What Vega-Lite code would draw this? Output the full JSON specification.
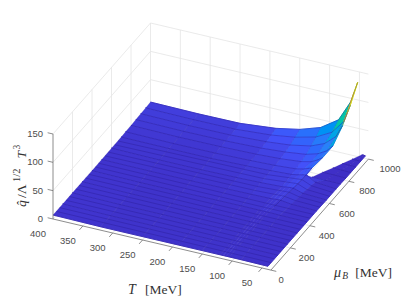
{"$schema":"https://vega.github.io/schema/vega-lite/v6.json","width":407,"height":305,"padding":0,"autosize":"none","background":"white","config":{"view":{"stroke":null}},
"datasets":{
"nodes":[
{"s":1,"i":0,"j":0,"T":400,"m":1000,"q":10.5},{"s":1,"i":0,"j":1,"T":400,"m":950,"q":10},{"s":1,"i":0,"j":2,"T":400,"m":900,"q":9.5},{"s":1,"i":0,"j":3,"T":400,"m":850,"q":9},{"s":1,"i":0,"j":4,"T":400,"m":800,"q":8.5},{"s":1,"i":0,"j":5,"T":400,"m":745,"q":8},{"s":1,"i":0,"j":6,"T":400,"m":700,"q":7.5},{"s":1,"i":0,"j":7,"T":400,"m":600,"q":7.5},{"s":1,"i":0,"j":8,"T":400,"m":500,"q":7},{"s":1,"i":0,"j":9,"T":400,"m":400,"q":7},{"s":1,"i":0,"j":10,"T":400,"m":300,"q":7},{"s":1,"i":0,"j":11,"T":400,"m":200,"q":7},{"s":1,"i":0,"j":12,"T":400,"m":100,"q":7},{"s":1,"i":0,"j":13,"T":400,"m":0,"q":7},
{"s":1,"i":1,"j":0,"T":320,"m":1000,"q":9.5},{"s":1,"i":1,"j":1,"T":320,"m":950,"q":9},{"s":1,"i":1,"j":2,"T":320,"m":900,"q":8.5},{"s":1,"i":1,"j":3,"T":320,"m":850,"q":8},{"s":1,"i":1,"j":4,"T":320,"m":800,"q":7.5},{"s":1,"i":1,"j":5,"T":320,"m":745,"q":7},{"s":1,"i":1,"j":6,"T":320,"m":700,"q":7},{"s":1,"i":1,"j":7,"T":320,"m":600,"q":6.5},{"s":1,"i":1,"j":8,"T":320,"m":500,"q":6.5},{"s":1,"i":1,"j":9,"T":320,"m":400,"q":6},{"s":1,"i":1,"j":10,"T":320,"m":300,"q":6},{"s":1,"i":1,"j":11,"T":320,"m":200,"q":6},{"s":1,"i":1,"j":12,"T":320,"m":100,"q":6},{"s":1,"i":1,"j":13,"T":320,"m":0,"q":6},
{"s":1,"i":2,"j":0,"T":250,"m":1000,"q":10},{"s":1,"i":2,"j":1,"T":250,"m":950,"q":9.5},{"s":1,"i":2,"j":2,"T":250,"m":900,"q":9},{"s":1,"i":2,"j":3,"T":250,"m":850,"q":8.5},{"s":1,"i":2,"j":4,"T":250,"m":800,"q":8},{"s":1,"i":2,"j":5,"T":250,"m":745,"q":7.5},{"s":1,"i":2,"j":6,"T":250,"m":700,"q":7},{"s":1,"i":2,"j":7,"T":250,"m":600,"q":6.5},{"s":1,"i":2,"j":8,"T":250,"m":500,"q":6.5},{"s":1,"i":2,"j":9,"T":250,"m":400,"q":6},{"s":1,"i":2,"j":10,"T":250,"m":300,"q":6},{"s":1,"i":2,"j":11,"T":250,"m":200,"q":6},{"s":1,"i":2,"j":12,"T":250,"m":100,"q":6},{"s":1,"i":2,"j":13,"T":250,"m":0,"q":6},
{"s":1,"i":3,"j":0,"T":190,"m":1000,"q":16},{"s":1,"i":3,"j":1,"T":190,"m":950,"q":14},{"s":1,"i":3,"j":2,"T":190,"m":900,"q":12},{"s":1,"i":3,"j":3,"T":190,"m":850,"q":10.5},{"s":1,"i":3,"j":4,"T":190,"m":800,"q":9.5},{"s":1,"i":3,"j":5,"T":190,"m":745,"q":9},{"s":1,"i":3,"j":6,"T":190,"m":700,"q":8.5},{"s":1,"i":3,"j":7,"T":190,"m":600,"q":7.5},{"s":1,"i":3,"j":8,"T":190,"m":500,"q":7},{"s":1,"i":3,"j":9,"T":190,"m":400,"q":6.5},{"s":1,"i":3,"j":10,"T":190,"m":300,"q":6},{"s":1,"i":3,"j":11,"T":190,"m":200,"q":6},{"s":1,"i":3,"j":12,"T":190,"m":100,"q":6},{"s":1,"i":3,"j":13,"T":190,"m":0,"q":6},
{"s":1,"i":4,"j":0,"T":150,"m":1000,"q":24},{"s":1,"i":4,"j":1,"T":150,"m":950,"q":20},{"s":1,"i":4,"j":2,"T":150,"m":900,"q":16},{"s":1,"i":4,"j":3,"T":150,"m":850,"q":13.5},{"s":1,"i":4,"j":4,"T":150,"m":800,"q":11.5},{"s":1,"i":4,"j":5,"T":150,"m":745,"q":10.5},{"s":1,"i":4,"j":6,"T":150,"m":700,"q":10},{"s":1,"i":4,"j":7,"T":150,"m":600,"q":8.5},{"s":1,"i":4,"j":8,"T":150,"m":500,"q":7.5},{"s":1,"i":4,"j":9,"T":150,"m":400,"q":6.5},{"s":1,"i":4,"j":10,"T":150,"m":300,"q":6},{"s":1,"i":4,"j":11,"T":150,"m":200,"q":6},{"s":1,"i":4,"j":12,"T":150,"m":100,"q":6},{"s":1,"i":4,"j":13,"T":150,"m":0,"q":6},
{"s":1,"i":5,"j":0,"T":115,"m":1000,"q":36},{"s":1,"i":5,"j":1,"T":115,"m":950,"q":29},{"s":1,"i":5,"j":2,"T":115,"m":900,"q":23},{"s":1,"i":5,"j":3,"T":115,"m":850,"q":18},{"s":1,"i":5,"j":4,"T":115,"m":800,"q":15},{"s":1,"i":5,"j":5,"T":115,"m":745,"q":13},{"s":1,"i":5,"j":6,"T":115,"m":700,"q":12},{"s":1,"i":5,"j":7,"T":115,"m":600,"q":10},{"s":1,"i":5,"j":8,"T":118,"m":500,"q":8},{"s":1,"i":5,"j":9,"T":120,"m":400,"q":6.5},{"s":1,"i":5,"j":10,"T":120,"m":300,"q":6},{"s":1,"i":5,"j":11,"T":120,"m":200,"q":6},{"s":1,"i":5,"j":12,"T":120,"m":100,"q":6},{"s":1,"i":5,"j":13,"T":120,"m":0,"q":6},
{"s":1,"i":6,"j":0,"T":85,"m":1000,"q":57},{"s":1,"i":6,"j":1,"T":88,"m":950,"q":44},{"s":1,"i":6,"j":2,"T":92,"m":900,"q":33},{"s":1,"i":6,"j":3,"T":95,"m":850,"q":24},{"s":1,"i":6,"j":4,"T":98,"m":800,"q":19},{"s":1,"i":6,"j":5,"T":102,"m":745,"q":16},{"s":1,"i":6,"j":6,"T":104,"m":700,"q":14},{"s":1,"i":6,"j":7,"T":108,"m":600,"q":11},{"s":1,"i":6,"j":8,"T":112,"m":500,"q":8.5},{"s":1,"i":6,"j":9,"T":115,"m":400,"q":6.5},{"s":1,"i":6,"j":10,"T":115,"m":300,"q":6},{"s":1,"i":6,"j":11,"T":115,"m":200,"q":6},{"s":1,"i":6,"j":12,"T":115,"m":100,"q":6},{"s":1,"i":6,"j":13,"T":115,"m":0,"q":6},
{"s":1,"i":7,"j":0,"T":65,"m":1000,"q":93},{"s":1,"i":7,"j":1,"T":68,"m":950,"q":68},{"s":1,"i":7,"j":2,"T":73,"m":900,"q":50},{"s":1,"i":7,"j":3,"T":80,"m":850,"q":33},{"s":1,"i":7,"j":4,"T":87,"m":800,"q":25},{"s":1,"i":7,"j":5,"T":94,"m":745,"q":19},{"s":1,"i":7,"j":6,"T":96,"m":700,"q":16},{"s":1,"i":7,"j":7,"T":100,"m":600,"q":12},{"s":1,"i":7,"j":8,"T":105,"m":500,"q":9},{"s":1,"i":7,"j":9,"T":110,"m":400,"q":6.5},{"s":1,"i":7,"j":10,"T":110,"m":300,"q":6},{"s":1,"i":7,"j":11,"T":110,"m":200,"q":6},{"s":1,"i":7,"j":12,"T":110,"m":100,"q":6},{"s":1,"i":7,"j":13,"T":110,"m":0,"q":6},
{"s":1,"i":8,"j":0,"T":53,"m":1000,"q":131},{"s":1,"i":8,"j":1,"T":57,"m":950,"q":100},{"s":1,"i":8,"j":2,"T":62,"m":900,"q":72},{"s":1,"i":8,"j":3,"T":70,"m":850,"q":44},{"s":1,"i":8,"j":4,"T":79,"m":800,"q":31},{"s":1,"i":8,"j":5,"T":88,"m":745,"q":21},{"s":1,"i":8,"j":6,"T":90,"m":700,"q":17},{"s":1,"i":8,"j":7,"T":95,"m":600,"q":12},{"s":1,"i":8,"j":8,"T":100,"m":500,"q":9},{"s":1,"i":8,"j":9,"T":105,"m":400,"q":6.5},{"s":1,"i":8,"j":10,"T":105,"m":300,"q":6},{"s":1,"i":8,"j":11,"T":105,"m":200,"q":6},{"s":1,"i":8,"j":12,"T":105,"m":100,"q":6},{"s":1,"i":8,"j":13,"T":105,"m":0,"q":6},
{"s":2,"i":0,"j":0,"T":46,"m":1000,"q":5},{"s":2,"i":0,"j":1,"T":54,"m":950,"q":5},{"s":2,"i":0,"j":2,"T":62,"m":900,"q":5},{"s":2,"i":0,"j":3,"T":70,"m":850,"q":5},{"s":2,"i":0,"j":4,"T":79,"m":800,"q":5},{"s":2,"i":0,"j":5,"T":88,"m":745,"q":5},{"s":2,"i":0,"j":6,"T":90,"m":700,"q":17},{"s":2,"i":0,"j":7,"T":95,"m":600,"q":12},{"s":2,"i":0,"j":8,"T":100,"m":500,"q":9},{"s":2,"i":0,"j":9,"T":105,"m":400,"q":6.5},{"s":2,"i":0,"j":10,"T":105,"m":300,"q":6},{"s":2,"i":0,"j":11,"T":105,"m":200,"q":6},{"s":2,"i":0,"j":12,"T":105,"m":100,"q":6},{"s":2,"i":0,"j":13,"T":105,"m":0,"q":6},
{"s":2,"i":1,"j":0,"T":43,"m":1000,"q":5},{"s":2,"i":1,"j":1,"T":47,"m":950,"q":5},{"s":2,"i":1,"j":2,"T":51,"m":900,"q":5},{"s":2,"i":1,"j":3,"T":55,"m":850,"q":5},{"s":2,"i":1,"j":4,"T":60,"m":800,"q":5},{"s":2,"i":1,"j":5,"T":65,"m":745,"q":5},{"s":2,"i":1,"j":6,"T":75,"m":700,"q":8},{"s":2,"i":1,"j":7,"T":80,"m":600,"q":7},{"s":2,"i":1,"j":8,"T":82,"m":500,"q":6.5},{"s":2,"i":1,"j":9,"T":85,"m":400,"q":6},{"s":2,"i":1,"j":10,"T":85,"m":300,"q":6},{"s":2,"i":1,"j":11,"T":85,"m":200,"q":6},{"s":2,"i":1,"j":12,"T":85,"m":100,"q":6},{"s":2,"i":1,"j":13,"T":85,"m":0,"q":6},
{"s":2,"i":2,"j":0,"T":40,"m":1000,"q":4.5},{"s":2,"i":2,"j":1,"T":40,"m":950,"q":4.5},{"s":2,"i":2,"j":2,"T":40,"m":900,"q":4.5},{"s":2,"i":2,"j":3,"T":40,"m":850,"q":4.5},{"s":2,"i":2,"j":4,"T":40,"m":800,"q":4.5},{"s":2,"i":2,"j":5,"T":40,"m":745,"q":5},{"s":2,"i":2,"j":6,"T":40,"m":700,"q":5},{"s":2,"i":2,"j":7,"T":40,"m":600,"q":5},{"s":2,"i":2,"j":8,"T":40,"m":500,"q":5.5},{"s":2,"i":2,"j":9,"T":40,"m":400,"q":5.5},{"s":2,"i":2,"j":10,"T":40,"m":300,"q":5.5},{"s":2,"i":2,"j":11,"T":40,"m":200,"q":5.5},{"s":2,"i":2,"j":12,"T":40,"m":100,"q":5.5},{"s":2,"i":2,"j":13,"T":40,"m":0,"q":5.5},
{"s":3,"i":0,"j":0,"T":65,"m":1000,"q":93},{"s":3,"i":0,"j":1,"T":68,"m":950,"q":68},{"s":3,"i":1,"j":0,"T":59,"m":1000,"q":112},{"s":3,"i":1,"j":1,"T":62.5,"m":950,"q":84},{"s":3,"i":2,"j":0,"T":53,"m":1000,"q":131},{"s":3,"i":2,"j":1,"T":57,"m":950,"q":100}
],
"grid":[
{"g":"z0","o":0,"T":400,"m":0,"q":0},{"g":"z0","o":1,"T":400,"m":1000,"q":0},{"g":"z0","o":2,"T":35,"m":1000,"q":0},
{"g":"z50","o":0,"T":400,"m":0,"q":50},{"g":"z50","o":1,"T":400,"m":1000,"q":50},{"g":"z50","o":2,"T":35,"m":1000,"q":50},
{"g":"z100","o":0,"T":400,"m":0,"q":100},{"g":"z100","o":1,"T":400,"m":1000,"q":100},{"g":"z100","o":2,"T":35,"m":1000,"q":100},
{"g":"z150","o":0,"T":400,"m":0,"q":150},{"g":"z150","o":1,"T":400,"m":1000,"q":150},{"g":"z150","o":2,"T":35,"m":1000,"q":150},
{"g":"m200","o":0,"T":35,"m":200,"q":0},{"g":"m200","o":1,"T":400,"m":200,"q":0},{"g":"m200","o":2,"T":400,"m":200,"q":150},
{"g":"m400","o":0,"T":35,"m":400,"q":0},{"g":"m400","o":1,"T":400,"m":400,"q":0},{"g":"m400","o":2,"T":400,"m":400,"q":150},
{"g":"m600","o":0,"T":35,"m":600,"q":0},{"g":"m600","o":1,"T":400,"m":600,"q":0},{"g":"m600","o":2,"T":400,"m":600,"q":150},
{"g":"m800","o":0,"T":35,"m":800,"q":0},{"g":"m800","o":1,"T":400,"m":800,"q":0},{"g":"m800","o":2,"T":400,"m":800,"q":150},
{"g":"t400","o":0,"T":400,"m":1000,"q":0},{"g":"t400","o":1,"T":400,"m":1000,"q":150},
{"g":"t350","o":0,"T":350,"m":0,"q":0},{"g":"t350","o":1,"T":350,"m":1000,"q":0},{"g":"t350","o":2,"T":350,"m":1000,"q":150},
{"g":"t300","o":0,"T":300,"m":0,"q":0},{"g":"t300","o":1,"T":300,"m":1000,"q":0},{"g":"t300","o":2,"T":300,"m":1000,"q":150},
{"g":"t250","o":0,"T":250,"m":0,"q":0},{"g":"t250","o":1,"T":250,"m":1000,"q":0},{"g":"t250","o":2,"T":250,"m":1000,"q":150},
{"g":"t200","o":0,"T":200,"m":0,"q":0},{"g":"t200","o":1,"T":200,"m":1000,"q":0},{"g":"t200","o":2,"T":200,"m":1000,"q":150},
{"g":"t150","o":0,"T":150,"m":0,"q":0},{"g":"t150","o":1,"T":150,"m":1000,"q":0},{"g":"t150","o":2,"T":150,"m":1000,"q":150},
{"g":"t100","o":0,"T":100,"m":0,"q":0},{"g":"t100","o":1,"T":100,"m":1000,"q":0},{"g":"t100","o":2,"T":100,"m":1000,"q":150},
{"g":"t50","o":0,"T":50,"m":0,"q":0},{"g":"t50","o":1,"T":50,"m":1000,"q":0},{"g":"t50","o":2,"T":50,"m":1000,"q":150}
],
"mesh":[
{"g":33,"o":0,"T":400,"m":33,"q":7},{"g":33,"o":1,"T":40,"m":33,"q":5.5},{"g":67,"o":0,"T":400,"m":67,"q":7},{"g":67,"o":1,"T":40,"m":67,"q":5.5},{"g":133,"o":0,"T":400,"m":133,"q":7},{"g":133,"o":1,"T":40,"m":133,"q":5.5},{"g":167,"o":0,"T":400,"m":167,"q":7},{"g":167,"o":1,"T":40,"m":167,"q":5.5},{"g":233,"o":0,"T":400,"m":233,"q":7},{"g":233,"o":1,"T":40,"m":233,"q":5.5},{"g":267,"o":0,"T":400,"m":267,"q":7},{"g":267,"o":1,"T":40,"m":267,"q":5.5},{"g":333,"o":0,"T":400,"m":333,"q":7},{"g":333,"o":1,"T":40,"m":333,"q":5.5},{"g":367,"o":0,"T":400,"m":367,"q":7},{"g":367,"o":1,"T":40,"m":367,"q":5.5},{"g":433,"o":0,"T":400,"m":433,"q":7},{"g":433,"o":1,"T":40,"m":433,"q":5.5},{"g":467,"o":0,"T":400,"m":467,"q":7},{"g":467,"o":1,"T":40,"m":467,"q":5.5},
{"g":533,"o":0,"T":400,"m":533,"q":7},{"g":533,"o":1,"T":150,"m":533,"q":8},{"g":533,"o":2,"T":100,"m":533,"q":10},{"g":533,"o":3,"T":82,"m":533,"q":7},{"g":533,"o":4,"T":40,"m":533,"q":5.5},
{"g":567,"o":0,"T":400,"m":567,"q":7},{"g":567,"o":1,"T":150,"m":567,"q":8},{"g":567,"o":2,"T":97,"m":567,"q":11},{"g":567,"o":3,"T":80,"m":567,"q":7},{"g":567,"o":4,"T":40,"m":567,"q":5.5},
{"g":633,"o":0,"T":400,"m":633,"q":7},{"g":633,"o":1,"T":150,"m":633,"q":9},{"g":633,"o":2,"T":94,"m":633,"q":14},{"g":633,"o":3,"T":78,"m":633,"q":7.5},{"g":633,"o":4,"T":40,"m":633,"q":5},
{"g":667,"o":0,"T":400,"m":667,"q":7},{"g":667,"o":1,"T":150,"m":667,"q":9.5},{"g":667,"o":2,"T":92,"m":667,"q":15},{"g":667,"o":3,"T":76,"m":667,"q":8},{"g":667,"o":4,"T":40,"m":667,"q":5},
{"g":"r","o":0,"T":88,"m":745,"q":21},{"g":"r","o":1,"T":92,"m":667,"q":15},{"g":"r","o":2,"T":97,"m":567,"q":11},{"g":"r","o":3,"T":103,"m":450,"q":7}
],
"axes":[
{"g":"zax","o":0,"T":400,"m":0,"q":0},{"g":"zax","o":1,"T":400,"m":0,"q":150},{"g":"tax","o":0,"T":400,"m":0,"q":0},{"g":"tax","o":1,"T":35,"m":0,"q":0},{"g":"max","o":0,"T":35,"m":0,"q":0},{"g":"max","o":1,"T":35,"m":1000,"q":0},
{"g":"z0","o":0,"T":400,"m":0,"q":0},{"g":"z0","o":1,"T":409,"m":0,"q":0},{"g":"z50","o":0,"T":400,"m":0,"q":50},{"g":"z50","o":1,"T":409,"m":0,"q":50},{"g":"z100","o":0,"T":400,"m":0,"q":100},{"g":"z100","o":1,"T":409,"m":0,"q":100},{"g":"z150","o":0,"T":400,"m":0,"q":150},{"g":"z150","o":1,"T":409,"m":0,"q":150},
{"g":"t350","o":0,"T":350,"m":0,"q":0},{"g":"t350","o":1,"T":350,"m":-35,"q":0},{"g":"t300","o":0,"T":300,"m":0,"q":0},{"g":"t300","o":1,"T":300,"m":-35,"q":0},{"g":"t250","o":0,"T":250,"m":0,"q":0},{"g":"t250","o":1,"T":250,"m":-35,"q":0},{"g":"t200","o":0,"T":200,"m":0,"q":0},{"g":"t200","o":1,"T":200,"m":-35,"q":0},{"g":"t150","o":0,"T":150,"m":0,"q":0},{"g":"t150","o":1,"T":150,"m":-35,"q":0},{"g":"t100","o":0,"T":100,"m":0,"q":0},{"g":"t100","o":1,"T":100,"m":-35,"q":0},{"g":"t50","o":0,"T":50,"m":0,"q":0},{"g":"t50","o":1,"T":50,"m":-35,"q":0},
{"g":"m0","o":0,"T":35,"m":0,"q":0},{"g":"m0","o":1,"T":26,"m":0,"q":0},{"g":"m200","o":0,"T":35,"m":200,"q":0},{"g":"m200","o":1,"T":26,"m":200,"q":0},{"g":"m400","o":0,"T":35,"m":400,"q":0},{"g":"m400","o":1,"T":26,"m":400,"q":0},{"g":"m600","o":0,"T":35,"m":600,"q":0},{"g":"m600","o":1,"T":26,"m":600,"q":0},{"g":"m800","o":0,"T":35,"m":800,"q":0},{"g":"m800","o":1,"T":26,"m":800,"q":0},{"g":"m1000","o":0,"T":35,"m":1000,"q":0},{"g":"m1000","o":1,"T":26,"m":1000,"q":0}
]
},
"encoding":{
"x":{"field":"px","type":"quantitative","scale":{"domain":[0,407],"range":[0,407],"nice":false,"zero":false},"axis":null},
"y":{"field":"py","type":"quantitative","scale":{"domain":[0,305],"range":[0,305],"nice":false,"zero":false},"axis":null}
},
"layer":[
{"data":{"name":"grid"},"transform":[{"calculate":"53+(400-datum.T)*0.597+datum.m*0.0975","as":"px"},{"calculate":"219+(400-datum.T)*0.14-datum.m*0.111-datum.q*0.5667","as":"py"}],
"mark":{"type":"line","stroke":"#e5e5e5","strokeWidth":0.8},"encoding":{"detail":{"field":"g"},"order":{"field":"o","type":"quantitative"}}},
{"data":{"name":"nodes"},"transform":[{"calculate":"53+(400-datum.T)*0.597+datum.m*0.0975","as":"px"},{"calculate":"219+(400-datum.T)*0.14-datum.m*0.111-datum.q*0.5667","as":"py"},{"calculate":"[0,1,2,3]","as":"c"},{"flatten":["c"]},{"calculate":"datum.i-((datum.c==1||datum.c==2)?1:0)","as":"ci"},{"calculate":"datum.j-(datum.c>=2?1:0)","as":"cj"},{"filter":"datum.ci>=0&&datum.cj>=0"},{"joinaggregate":[{"op":"count","as":"n"},{"op":"mean","field":"q","as":"qm"}],"groupby":["s","ci","cj"]},{"filter":"datum.n==4"},{"calculate":"datum.s+'_'+datum.ci+'_'+datum.cj","as":"cell"}],
"mark":{"type":"line","strokeWidth":0.9,"strokeJoin":"round","filled":true},
"encoding":{"detail":{"field":"cell"},"order":{"field":"c","type":"quantitative"},
"fill":{"field":"qm","type":"quantitative","legend":null,"scale":{"domain":[0,16,38,55,68,80,92,104],"range":["#3a1fb0","#4352fa","#2d87f7","#12b1d6","#37c897","#abc739","#fec338","#f9fb15"]}},
"stroke":{"field":"qm","type":"quantitative","legend":null,"scale":{"domain":[0,16,38,55,68,80,92,104],"range":["#3a1fb0","#4352fa","#2d87f7","#12b1d6","#37c897","#abc739","#fec338","#f9fb15"]}}}},
{"data":{"name":"mesh"},"transform":[{"calculate":"53+(400-datum.T)*0.597+datum.m*0.0975","as":"px"},{"calculate":"219+(400-datum.T)*0.14-datum.m*0.111-datum.q*0.5667","as":"py"}],
"mark":{"type":"line","stroke":"#24168c","strokeWidth":0.5,"strokeOpacity":0.7},"encoding":{"detail":{"field":"g"},"order":{"field":"o","type":"quantitative"}}},
{"data":{"name":"nodes"},"transform":[{"filter":"datum.s<3"},{"calculate":"53+(400-datum.T)*0.597+datum.m*0.0975","as":"px"},{"calculate":"219+(400-datum.T)*0.14-datum.m*0.111-datum.q*0.5667","as":"py"},{"calculate":"datum.s+'_'+datum.j","as":"g"}],
"mark":{"type":"line","stroke":"#24168c","strokeWidth":0.5,"strokeOpacity":0.7},"encoding":{"detail":{"field":"g"},"order":{"field":"i","type":"quantitative"}}},
{"data":{"name":"nodes"},"transform":[{"filter":"datum.s<3&&(datum.s==2||datum.i<6)||datum.s==1&&datum.j<8"},{"calculate":"53+(400-datum.T)*0.597+datum.m*0.0975","as":"px"},{"calculate":"219+(400-datum.T)*0.14-datum.m*0.111-datum.q*0.5667","as":"py"},{"calculate":"datum.s+'_'+datum.i","as":"g"}],
"mark":{"type":"line","stroke":"#24168c","strokeWidth":0.4,"strokeOpacity":0.35},"encoding":{"detail":{"field":"g"},"order":{"field":"j","type":"quantitative"}}},
{"data":{"name":"axes"},"transform":[{"calculate":"53+(400-datum.T)*0.597+datum.m*0.0975","as":"px"},{"calculate":"219+(400-datum.T)*0.14-datum.m*0.111-datum.q*0.5667","as":"py"}],
"mark":{"type":"line","stroke":"#707070","strokeWidth":0.8},"encoding":{"detail":{"field":"g"},"order":{"field":"o","type":"quantitative"}}},
{"data":{"values":[{"label":"0","q":0},{"label":"50","q":50},{"label":"100","q":100},{"label":"150","q":150}]},"transform":[{"calculate":"53","as":"px"},{"calculate":"219-datum.q*0.5667","as":"py"}],
"mark":{"type":"text","font":"Liberation Sans","fontSize":9.5,"fill":"#4d4d4d","align":"right","baseline":"middle","dx":-10},"encoding":{"text":{"field":"label"}}},
{"data":{"values":[{"label":"400","T":400},{"label":"350","T":350},{"label":"300","T":300},{"label":"250","T":250},{"label":"200","T":200},{"label":"150","T":150},{"label":"100","T":100},{"label":"50","T":50}]},"transform":[{"calculate":"53+(400-datum.T)*0.597","as":"px"},{"calculate":"219+(400-datum.T)*0.14","as":"py"}],
"mark":{"type":"text","font":"Liberation Sans","fontSize":9.5,"fill":"#4d4d4d","align":"center","baseline":"middle","dx":-15,"dy":15},"encoding":{"text":{"field":"label"}}},
{"data":{"values":[{"label":"0","m":0},{"label":"200","m":200},{"label":"400","m":400},{"label":"600","m":600},{"label":"800","m":800},{"label":"1000","m":1000}]},"transform":[{"calculate":"53+365*0.597+datum.m*0.0975+datum.m*0.0035","as":"px"},{"calculate":"219+365*0.14-datum.m*0.111","as":"py"}],
"mark":{"type":"text","font":"Liberation Sans","fontSize":9.5,"fill":"#4d4d4d","align":"left","baseline":"middle","dx":7.5,"dy":10},"encoding":{"text":{"field":"label"}}},
{"data":{"values":[{"label":"T","T":200}]},"transform":[{"calculate":"53+(400-datum.T)*0.597","as":"px"},{"calculate":"219+(400-datum.T)*0.14","as":"py"}],
"mark":{"type":"text","font":"Liberation Serif","fontStyle":"italic","fontSize":14,"fill":"#333333","align":"left","dx":-44.4,"dy":43},"encoding":{"text":{"field":"label"}}},
{"data":{"values":[{"label":"[MeV]","T":200}]},"transform":[{"calculate":"53+(400-datum.T)*0.597","as":"px"},{"calculate":"219+(400-datum.T)*0.14","as":"py"}],
"mark":{"type":"text","font":"Liberation Serif","fontSize":13.5,"fill":"#333333","align":"left","dx":-27.4,"dy":43},"encoding":{"text":{"field":"label"}}},
{"data":{"values":[{"label":"μ","m":500}]},"transform":[{"calculate":"53+365*0.597+datum.m*0.0975","as":"px"},{"calculate":"219+365*0.14-datum.m*0.111","as":"py"}],
"mark":{"type":"text","font":"Liberation Serif","fontStyle":"italic","fontSize":14,"fill":"#333333","align":"left","dx":14.3,"dy":58.5},"encoding":{"text":{"field":"label"}}},
{"data":{"values":[{"label":"B","m":500}]},"transform":[{"calculate":"53+365*0.597+datum.m*0.0975","as":"px"},{"calculate":"219+365*0.14-datum.m*0.111","as":"py"}],
"mark":{"type":"text","font":"Liberation Serif","fontStyle":"italic","fontSize":9.5,"fill":"#333333","align":"left","dx":22.5,"dy":61.5},"encoding":{"text":{"field":"label"}}},
{"data":{"values":[{"label":"[MeV]","m":500}]},"transform":[{"calculate":"53+365*0.597+datum.m*0.0975","as":"px"},{"calculate":"219+365*0.14-datum.m*0.111","as":"py"}],
"mark":{"type":"text","font":"Liberation Serif","fontSize":13.5,"fill":"#333333","align":"left","dx":35.5,"dy":58.5},"encoding":{"text":{"field":"label"}}},
{"data":{"values":[{"label":"q̂","q":75}]},"transform":[{"calculate":"53","as":"px"},{"calculate":"219-datum.q*0.5667","as":"py"}],
"mark":{"type":"text","font":"Liberation Serif","fontStyle":"italic","fontSize":13.5,"fill":"#333333","align":"left","angle":270,"dx":-30.5,"dy":-31},"encoding":{"text":{"field":"label"}}},
{"data":{"values":[{"label":"/Λ","q":75}]},"transform":[{"calculate":"53","as":"px"},{"calculate":"219-datum.q*0.5667","as":"py"}],
"mark":{"type":"text","font":"Liberation Serif","fontSize":13.5,"fill":"#333333","align":"left","angle":270,"dx":-21.5,"dy":-31},"encoding":{"text":{"field":"label"}}},
{"data":{"values":[{"label":"1/2","q":75}]},"transform":[{"calculate":"53","as":"px"},{"calculate":"219-datum.q*0.5667","as":"py"}],
"mark":{"type":"text","font":"Liberation Serif","fontSize":10.5,"fill":"#333333","align":"left","angle":270,"dx":-5.5,"dy":-36},"encoding":{"text":{"field":"label"}}},
{"data":{"values":[{"label":"T","q":75}]},"transform":[{"calculate":"53","as":"px"},{"calculate":"219-datum.q*0.5667","as":"py"}],
"mark":{"type":"text","font":"Liberation Serif","fontStyle":"italic","fontSize":13.5,"fill":"#333333","align":"left","angle":270,"dx":18,"dy":-31},"encoding":{"text":{"field":"label"}}},
{"data":{"values":[{"label":"3","q":75}]},"transform":[{"calculate":"53","as":"px"},{"calculate":"219-datum.q*0.5667","as":"py"}],
"mark":{"type":"text","font":"Liberation Serif","fontSize":9.5,"fill":"#333333","align":"left","angle":270,"dx":27,"dy":-36},"encoding":{"text":{"field":"label"}}}
]}
